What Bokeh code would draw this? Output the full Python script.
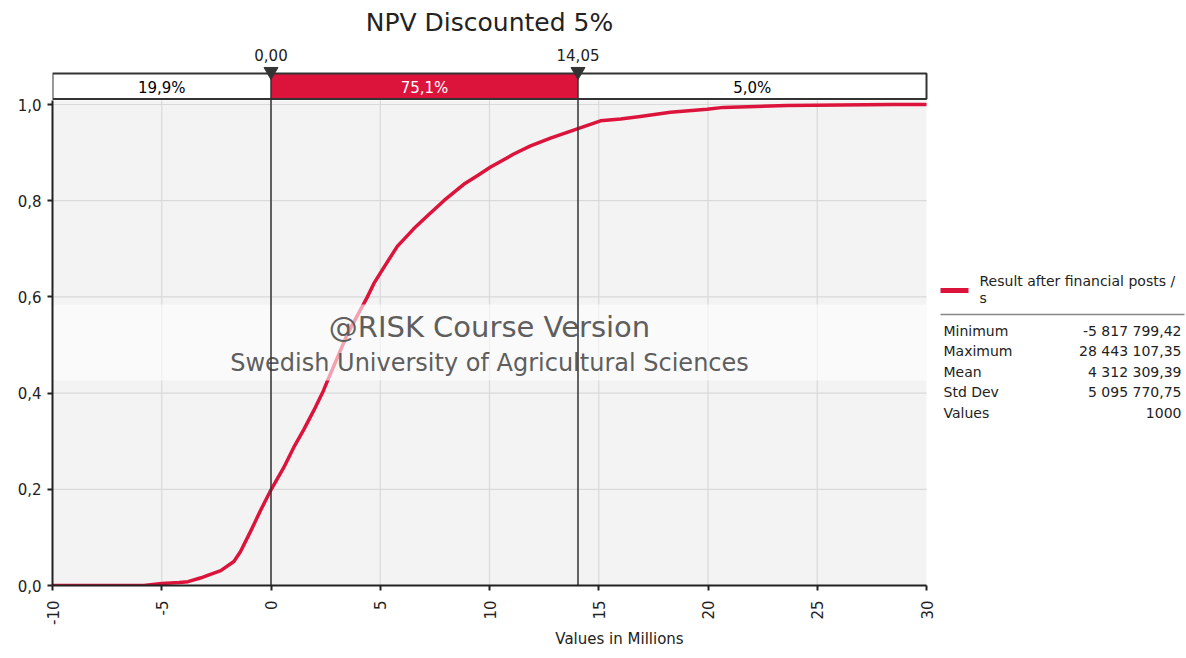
import math
from bokeh.plotting import figure
from bokeh.models import Range1d, FixedTicker
from bokeh.core.properties import value
from bokeh.embed import file_html
from bokeh.resources import INLINE

# ---------------- data ----------------
title_text = "NPV Discounted 5%"
x_axis_label = "Values in Millions"
series_name_lines = ["Result after financial posts /", "s"]

npv_millions = [-10.0, -5.82, -5.0, -4.2, -3.8, -3.2, -2.9, -2.3, -1.7, -1.4,
                -0.94, -0.48, 0.0, 0.58, 1.04, 1.5, 1.96, 2.4, 2.57,
                3.49, 4.4, 4.71, 5.16, 5.78, 6.54, 7.15, 7.91, 8.82, 9.44, 10.05,
                11.11, 11.88, 12.79, 14.05, 15.08, 16.0, 16.9, 18.28, 19.96, 20.7,
                23.6, 28.44, 30.0]
cum_prob = [0.0, 0.0, 0.004, 0.006, 0.008, 0.016, 0.021, 0.031, 0.050, 0.070,
            0.112, 0.156, 0.199, 0.245, 0.287, 0.324, 0.364, 0.405, 0.424,
            0.522, 0.599, 0.628, 0.661, 0.705, 0.742, 0.768, 0.800, 0.834, 0.852, 0.870,
            0.897, 0.914, 0.930, 0.950, 0.966, 0.970, 0.975, 0.984, 0.990, 0.994,
            0.998, 1.0, 1.0]

x_ticks = [-10, -5, 0, 5, 10, 15, 20, 25, 30]
x_tick_labels = ["-10", "-5", "0", "5", "10", "15", "20", "25", "30"]
y_ticks = [0.0, 0.2, 0.4, 0.6, 0.8, 1.0]
y_tick_labels = ["0,0", "0,2", "0,4", "0,6", "0,8", "1,0"]

percentile_values = [0.0, 14.05]
percentile_labels = ["0,00", "14,05"]
band_probs = ["19,9%", "75,1%", "5,0%"]

stat_names = ["Minimum", "Maximum", "Mean", "Std Dev", "Values"]
stat_values = ["-5 817 799,42", "28 443 107,35", "4 312 309,39", "5 095 770,75", "1000"]

watermark_1 = "@RISK Course Version"
watermark_2 = "Swedish University of Agricultural Sciences"

# ---------------- styling / layout ----------------
RED = "#DC143C"
DARK = "#333333"
FONT = value("DejaVu Sans")

FIG_W, FIG_H = 1186, 658
B_LEFT, B_BOTTOM = 52, 73
FRAME_W, FRAME_H = FIG_W - B_LEFT, FIG_H - B_BOTTOM
PX_PER_X = 874 / 40.0
PX_PER_Y = 481.0
x0 = x_ticks[0]
x1 = x_ticks[-1]
x_end = x0 + FRAME_W / PX_PER_X
y_end = FRAME_H / PX_PER_Y


def dx(px):  # canvas pixel -> data x
    return x0 + (px - B_LEFT) / PX_PER_X


def dy(py):  # canvas pixel -> data y
    return (FRAME_H - py) / PX_PER_Y


p = figure(width=FIG_W, height=FIG_H, x_range=Range1d(x0, x_end), y_range=Range1d(0, y_end),
           output_backend="svg", toolbar_location=None,
           min_border_left=B_LEFT, min_border_right=0, min_border_top=0, min_border_bottom=B_BOTTOM)
p.outline_line_color = None
p.background_fill_color = "white"
p.border_fill_color = "white"
p.xgrid.visible = False
p.ygrid.visible = False

area_top = dy(100)

# plot area background
p.quad(left=[x0], right=[x1], bottom=[0], top=[area_top], fill_color="#F3F3F3", line_color=None)

# grid lines
gx = [t for t in x_ticks if x0 < t < x1]
p.segment(x0=gx, y0=[0] * len(gx), x1=gx, y1=[area_top] * len(gx), line_color="#D9D9D9", line_width=1.2)
gy = [t for t in y_ticks if t > 0]
p.segment(x0=[x0] * len(gy), y0=gy, x1=[x1] * len(gy), y1=gy, line_color="#D9D9D9", line_width=1.2)

# cumulative curve
p.line(npv_millions, cum_prob, line_color=RED, line_width=3.5, line_join="round")

# watermark band and text
p.quad(left=[x0], right=[x1], bottom=[dy(380)], top=[dy(304)], fill_color="white", fill_alpha=0.6, line_color=None)
xc = (x0 + x1) / 2
p.text(x=[xc], y=[dy(326)], text=[watermark_1], text_font=FONT, text_font_size="29px",
       text_color="#5E5E5E", text_align="center", text_baseline="middle")
p.text(x=[xc], y=[dy(362)], text=[watermark_2], text_font=FONT, text_font_size="24px",
       text_color="#5E5E5E", text_align="center", text_baseline="middle")

# percentile bar
bar_bottom, bar_top = dy(98.5), dy(73)
edges = [x0] + percentile_values + [x1]
p.quad(left=edges[:-1], right=edges[1:], bottom=[bar_bottom] * 3, top=[bar_top] * 3,
       fill_color=["white", RED, "white"], line_color=None)
p.quad(left=[x0], right=[x1], bottom=[bar_bottom], top=[bar_top], fill_color=None,
       line_color=DARK, line_width=2)
mids = [(edges[i] + edges[i + 1]) / 2 for i in range(3)]
p.text(x=mids, y=[dy(87)] * 3, text=band_probs, text_font=FONT, text_font_size="15px",
       text_color=["black", "white", "black"], text_align="center", text_baseline="middle")

# percentile vertical lines, markers and labels
p.segment(x0=percentile_values, y0=[0, 0], x1=percentile_values, y1=[bar_top, bar_top],
          line_color=DARK, line_width=1.5)
p.scatter(x=percentile_values, y=[dy(71)] * 2, marker="inverted_triangle", size=14,
          fill_color=DARK, line_color=DARK)
p.text(x=percentile_values, y=[dy(54)] * 2, text=percentile_labels, text_font=FONT,
       text_font_size="15px", text_color="#222222", text_align="center", text_baseline="middle")

# title
p.text(x=[xc], y=[dy(22)], text=[title_text], text_font=FONT, text_font_size="25px",
       text_color="#222222", text_align="center", text_baseline="middle")

# legend / statistics panel
p.line(x=[dx(940), dx(968)], y=[dy(290), dy(290)], line_color=RED, line_width=5)
p.text(x=[dx(979)] * 2, y=[dy(280), dy(297)], text=series_name_lines, text_font=FONT,
       text_font_size="14px", text_color="#222222", text_align="left", text_baseline="middle")
p.line(x=[dx(940), dx(1184)], y=[dy(314), dy(314)], line_color="#888888", line_width=1.5)
row_y = [dy(330 + 20.6 * i) for i in range(len(stat_names))]
p.text(x=[dx(943)] * len(stat_names), y=row_y, text=stat_names, text_font=FONT,
       text_font_size="14px", text_color="#222222", text_align="left", text_baseline="middle")
p.text(x=[dx(1181)] * len(stat_values), y=row_y, text=stat_values, text_font=FONT,
       text_font_size="14px", text_color="#222222", text_align="right", text_baseline="middle")

# axes
xa = p.xaxis[0]
xa.ticker = FixedTicker(ticks=x_ticks)
xa.bounds = (x0, x1)
xa.major_label_orientation = math.pi / 2
xa.major_label_overrides = {t: lab for t, lab in zip(x_ticks, x_tick_labels)}
xa.axis_label = x_axis_label
ya = p.yaxis[0]
ya.ticker = FixedTicker(ticks=y_ticks)
ya.bounds = (0, area_top)
ya.major_label_overrides = {t: lab for t, lab in zip(y_ticks, y_tick_labels)}
for ax in (xa, ya):
    ax.axis_line_color = "#222222"
    ax.axis_line_width = 2
    ax.major_tick_line_color = "#222222"
    ax.major_tick_line_width = 2
    ax.major_tick_out = 5
    ax.major_tick_in = 0
    ax.minor_tick_line_color = None
    ax.major_label_text_font = "DejaVu Sans"
    ax.major_label_text_font_size = "15px"
    ax.major_label_text_color = "#222222"
    ax.major_label_standoff = 6
xa.major_label_standoff = 10
xa.axis_label_text_font = "DejaVu Sans"
xa.axis_label_text_font_size = "15px"
xa.axis_label_text_font_style = "normal"
xa.axis_label_text_color = "#222222"
xa.axis_label_standoff = 2

open("out.html", "w").write(file_html(p, INLINE))
